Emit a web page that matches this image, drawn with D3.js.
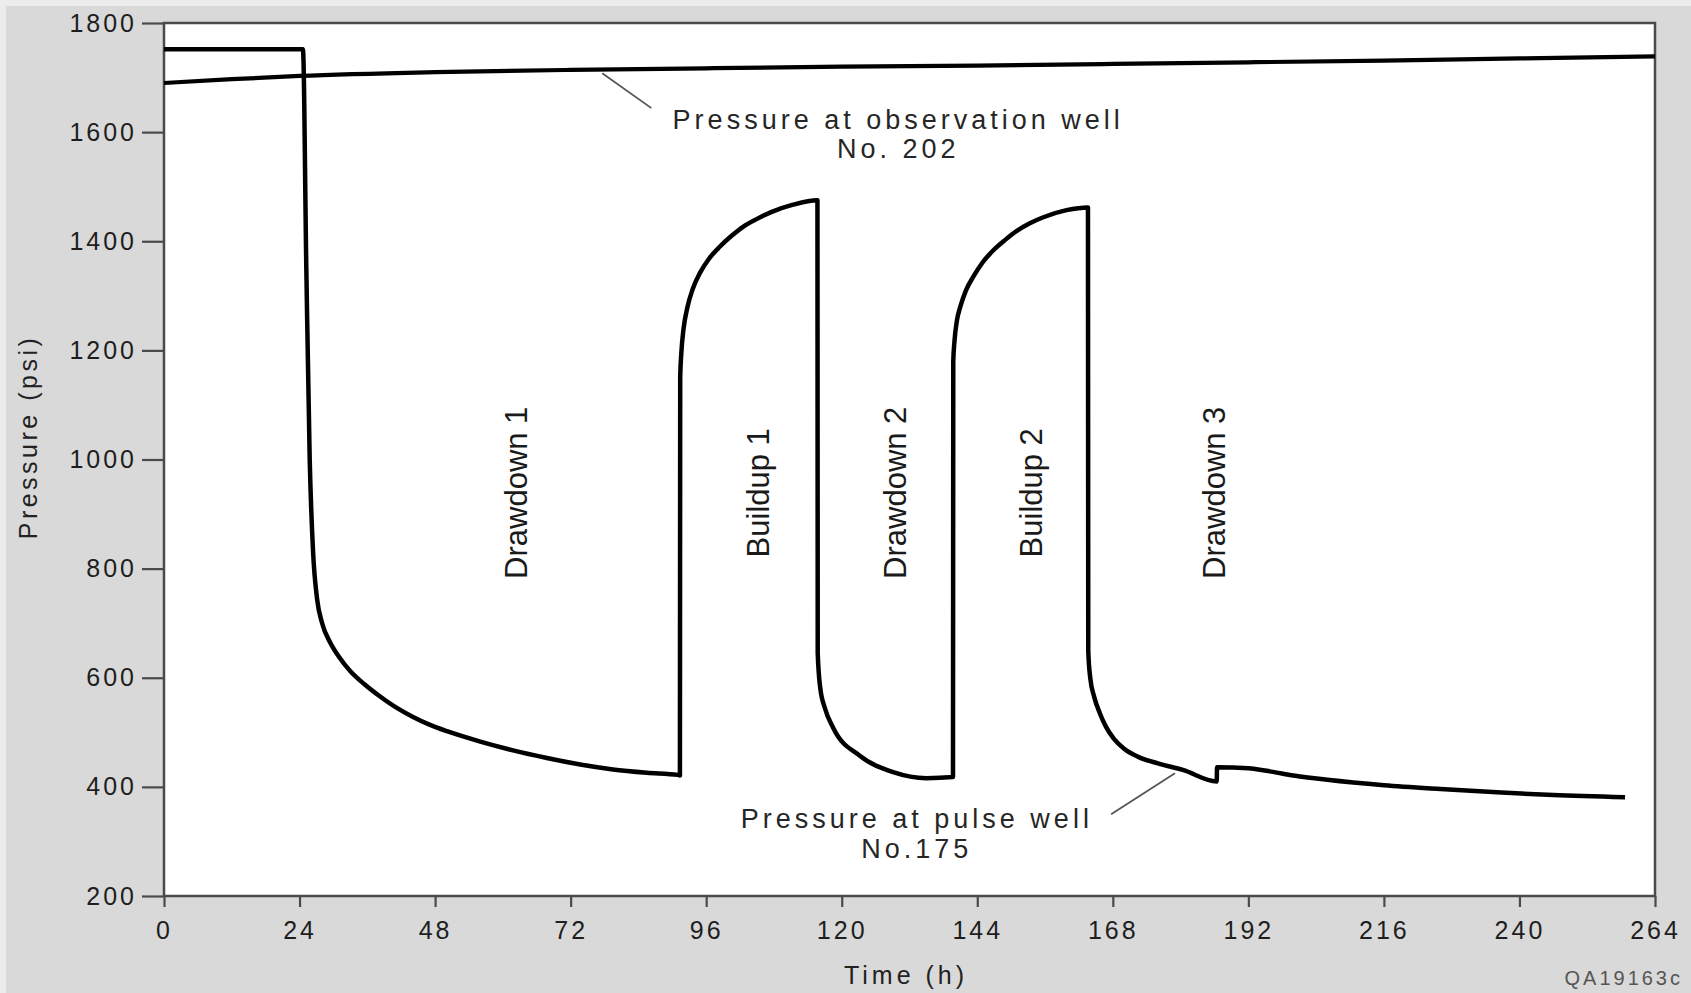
<!DOCTYPE html>
<html>
<head>
    <meta charset='utf-8'>
    <title>Pulse test pressures</title>
    <script src='https://d3js.org/d3.v7.min.js'></script>
    <style>
        body { margin: 0; background: #ececec; }
        svg { display: block; }
    </style>
</head>

<body>
<div id='chart'></div>
<script type='text/javascript'>
    // axis ticks
    const xTicks = [0, 24, 48, 72, 96, 120, 144, 168, 192, 216, 240, 264];
    const yTicks = [200, 400, 600, 800, 1000, 1200, 1400, 1600, 1800];

    // observation well No. 202
    const obsHours = [0, 12, 24, 48, 72, 96, 120, 144, 168, 192, 216, 240, 264];
    const obsPsi   = [1690, 1697, 1703, 1710, 1714, 1717, 1720, 1722, 1725, 1728, 1731, 1735, 1739];

    // pulse well No. 175
    const pulseHours = [0, 24.6, 25.2, 25.8, 26.4, 27.1, 28.0, 29.4, 31.0, 33.0, 35.5, 38.2, 41.0, 44.1,
                        47.0, 50.1, 56.0, 61.8, 67.8, 73.7, 79.5, 85.5, 91.0, 91.35,
                        91.4, 91.6, 92.0, 92.7, 93.6, 94.9, 96.5, 98.4, 100.5, 102.6, 105.0, 107.4, 111.4, 115.7,
                        115.75, 116.2, 117.0, 118.5, 123.2, 129.1, 135.0, 139.7,
                        139.75, 139.95, 140.4, 141.0, 142.0, 143.3, 145.0, 146.8, 149.0, 151.0, 153.3, 155.7, 159.8, 163.6,
                        163.65, 164.0, 164.7, 165.7, 166.8, 168.2, 170.0, 172.5, 176.0, 180.4, 186.4,
                        186.45, 192.0, 196, 200, 206, 216, 226, 236, 246, 258.7];
    const pulsePsi   = [1752, 1752, 1350, 1000, 830, 745, 700, 665, 638, 612, 588, 566, 546, 528,
                        514, 502, 483, 467, 453, 441, 432, 426, 422, 421,
                        1150, 1195, 1240, 1280, 1312, 1342, 1368, 1390, 1410, 1427, 1441, 1453, 1467, 1475,
                        645, 581, 545, 508, 457, 427, 416, 418,
                        1180, 1215, 1255, 1280, 1310, 1335, 1362, 1383, 1403, 1419, 1433, 1444, 1457, 1462,
                        650, 600, 565, 535, 510, 488, 470, 455, 443, 431, 410,
                        436, 434, 428, 421, 413, 403, 396, 390, 385, 381];

    // phase labels (baseline hour, centre pressure)
    const phaseNames = ['Drawdown 1', 'Buildup 1', 'Drawdown 2', 'Buildup 2', 'Drawdown 3'];
    const phaseHours = [64.2, 107.2, 131.4, 155.5, 187.9];
    const phasePsi   = [939, 939, 939, 939, 939];

    // callouts
    const obsNote = ['Pressure at observation well', 'No. 202'];
    const obsNoteHour = 130.0;
    const obsNotePsi = [1606, 1552];
    const obsLeaderHours = [77.6, 86.3];
    const obsLeaderPsi = [1708, 1644];

    const pulseNote = ['Pressure at pulse well', 'No.175'];
    const pulseNoteHour = 133.3;
    const pulseNotePsi = [325, 270];
    const pulseLeaderHours = [167.7, 179.0];
    const pulseLeaderPsi = [350, 425];

    const W = 1691, H = 993;
    let margin = {top: 23, right: 36, bottom: 97, left: 164};
    let w = W - margin.left - margin.right;
    let h = H - margin.top - margin.bottom;
    const font = "'Liberation Sans', Arial, Helvetica, sans-serif";

    let root = d3.select('#chart')
        .append('svg')
            .attr('width', W)
            .attr('height', H);

    // grey page
    root.append('rect')
        .attr('x', 6).attr('y', 6)
        .attr('width', W - 6).attr('height', H - 6)
        .attr('fill', '#d9d9d9');

    let svg = root.append('g')
        .attr('transform', `translate(${margin.left},${margin.top})`);

    svg.append('rect')
        .attr('width', w).attr('height', h)
        .attr('fill', '#fff');

    let xScale = d3.scaleLinear().domain([0, 264]).range([0, w]);
    let yScale = d3.scaleLinear().domain([200, 1800]).range([h, 0]);

    // axes
    let xAxis = d3.axisBottom(xScale)
        .tickValues(xTicks)
        .tickSize(11)
        .tickPadding(14)
        .tickFormat(d3.format('d'));

    let yAxis = d3.axisLeft(yScale)
        .tickValues(yTicks)
        .tickSize(22)
        .tickPadding(5)
        .tickFormat(d3.format('d'));

    let gx = svg.append('g')
        .attr('class', 'x axis')
        .attr('transform', `translate(0,${h})`)
        .call(xAxis);

    let gy = svg.append('g')
        .attr('class', 'y axis')
        .call(yAxis);

    [gx, gy].forEach((g) => {
        g.select('.domain').remove();
        g.selectAll('.tick line')
            .attr('stroke', '#4a4a4a')
            .attr('stroke-width', 2.2);
        g.selectAll('.tick text')
            .attr('fill', '#1e1e1e')
            .style('font-family', font)
            .style('font-size', '25px')
            .style('letter-spacing', '3px');
    });

    // frame
    svg.append('rect')
        .attr('width', w).attr('height', h)
        .attr('fill', 'none')
        .attr('stroke', '#4a4a4a')
        .attr('stroke-width', 2.5);

    // curves
    const toPoints = (hours, psi) => hours.map((d, i) => [d, psi[i]]);

    let line = d3.line()
        .x((d) => xScale(d[0]))
        .y((d) => yScale(d[1]))
        .curve(d3.curveMonotoneX);

    svg.append('path')
        .datum(toPoints(obsHours, obsPsi))
        .attr('d', line)
        .attr('fill', 'none')
        .attr('stroke', '#000')
        .attr('stroke-width', 4.2);

    svg.append('path')
        .datum(toPoints(pulseHours, pulsePsi))
        .attr('d', line)
        .attr('fill', 'none')
        .attr('stroke', '#000')
        .attr('stroke-width', 4.5)
        .attr('stroke-linejoin', 'round');

    // leader lines
    let straight = d3.line()
        .x((d) => xScale(d[0]))
        .y((d) => yScale(d[1]));

    [toPoints(obsLeaderHours, obsLeaderPsi), toPoints(pulseLeaderHours, pulseLeaderPsi)]
        .forEach((pts) => {
            svg.append('path')
                .datum(pts)
                .attr('d', straight)
                .attr('fill', 'none')
                .attr('stroke', '#555')
                .attr('stroke-width', 1.8);
        });

    // callout texts
    const addNote = (lines, hour, psis) => {
        lines.forEach((t, i) => {
            svg.append('text')
                .attr('x', xScale(hour))
                .attr('y', yScale(psis[i]))
                .attr('text-anchor', 'middle')
                .attr('fill', '#262626')
                .style('font-family', font)
                .style('font-size', '27px')
                .style('letter-spacing', '4px')
                .text(t);
        });
    };
    addNote(obsNote, obsNoteHour, obsNotePsi);
    addNote(pulseNote, pulseNoteHour, pulseNotePsi);

    // phase labels, rotated
    svg.selectAll('.phase')
        .data(phaseNames)
        .enter()
        .append('text')
            .attr('class', 'phase')
            .attr('transform', (d, i) => `translate(${xScale(phaseHours[i])},${yScale(phasePsi[i])}) rotate(-90)`)
            .attr('text-anchor', 'middle')
            .attr('fill', '#1a1a1a')
            .style('font-family', font)
            .style('font-size', '31px')
            .text((d) => d);

    // axis titles
    svg.append('text')
        .attr('x', 742)
        .attr('y', h + 88)
        .attr('text-anchor', 'middle')
        .attr('fill', '#222')
        .style('font-family', font)
        .style('font-size', '25px')
        .style('letter-spacing', '4px')
        .text('Time (h)');

    svg.append('text')
        .attr('transform', `translate(${37 - margin.left},${437 - margin.top}) rotate(-90)`)
        .attr('text-anchor', 'middle')
        .attr('fill', '#222')
        .style('font-family', font)
        .style('font-size', '25px')
        .style('letter-spacing', '3.5px')
        .text('Pressure (psi)');

    // figure id
    root.append('text')
        .attr('x', W - 8)
        .attr('y', 985)
        .attr('text-anchor', 'end')
        .attr('fill', '#555')
        .style('font-family', font)
        .style('font-size', '20px')
        .style('letter-spacing', '3px')
        .text('QA19163c');
</script>
</body>
</html>
